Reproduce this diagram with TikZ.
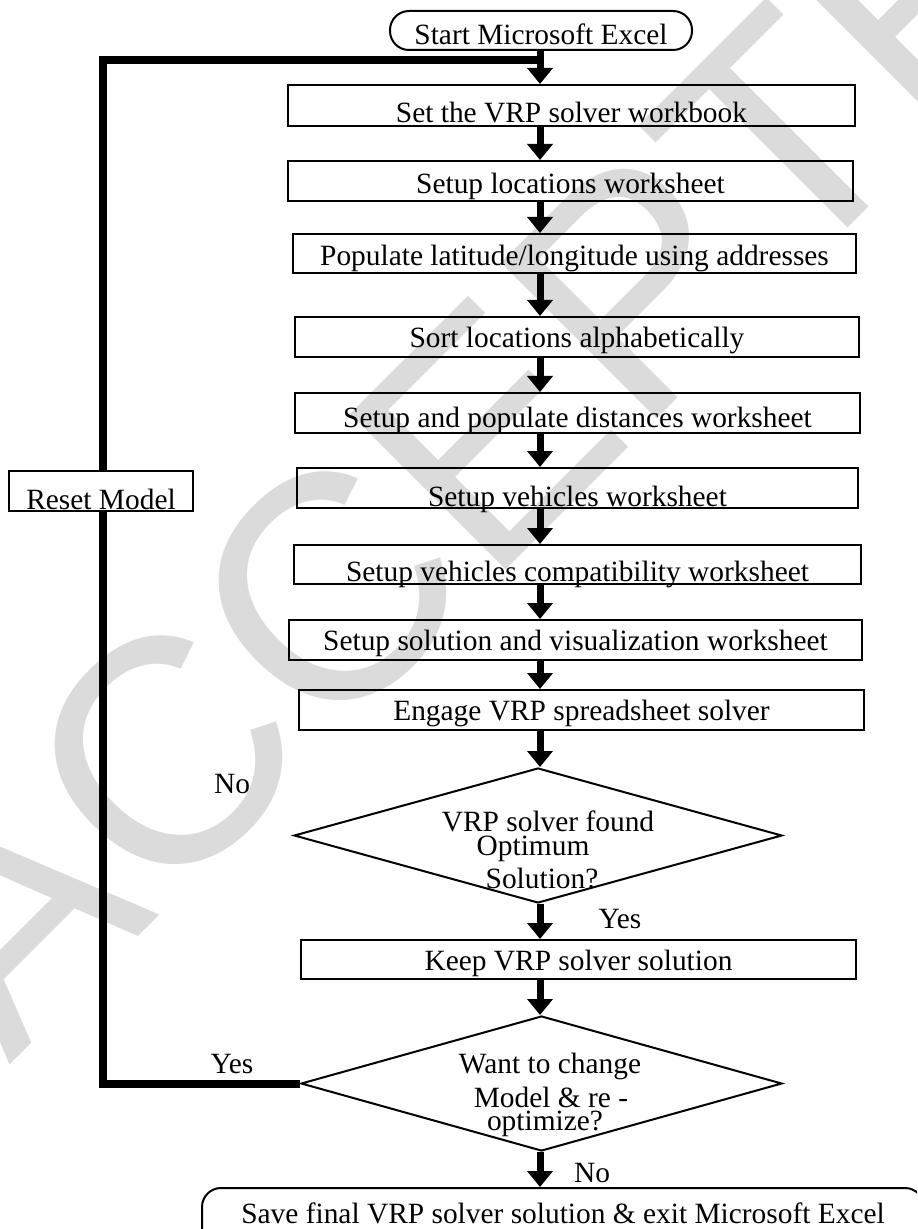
\documentclass[tikz,border=0pt]{standalone}
\usepackage{fontspec}
\setmainfont{Liberation Serif}
\newfontfamily\markfont{Liberation Sans}
\usetikzlibrary{arrows.meta,shapes.geometric}

\tikzset{
  box/.style={draw, line width=1pt, inner sep=0pt},
  term/.style={box, rounded corners=9.5pt},
  dec/.style={draw, line width=1pt, diamond, inner sep=0pt},
  arr/.style={line width=3.5pt, -{Triangle[length=8pt,width=12.5pt]}},
  loopline/.style={line width=4pt, line join=miter},
  lbl/.style={anchor=base, inner sep=0pt}
}

\begin{document}
\begin{tikzpicture}[x=0.5pt, y=-0.5pt, font=\fontsize{14.7}{16}\selectfont]
\useasboundingbox (0,0) rectangle (917,1229);
\clip (0,0) rectangle (917,1229);
% watermark
\node[text=black!14, rotate=45, inner sep=0pt, font=\markfont\fontsize{160}{160}\selectfont] (wmark) at (548,372) {ACCEPTED};

\coordinate (spine) at (540,0);
\coordinate (corner) at (103,60);

\node[term, minimum width=151pt, text height=17pt, text depth=2.5pt] (start) at (541,30.5) {Start Microsoft Excel};
\node[box, minimum width=283.5pt, text height=19pt, text depth=1.5pt] (b1) at (571.5,105.5) {Set the VRP solver workbook};
\node[box, minimum width=282.5pt, text height=16.5pt, text depth=3.5pt] (b2) at (570.5,181) {Setup locations worksheet};
\node[box, minimum width=281.5pt, text height=16pt, text depth=3.5pt] (b3) at (574.5,253.5) {Populate latitude/longitude using addresses};
\node[box, minimum width=282pt, text height=15.5pt, text depth=4.5pt] (b4) at (577,337) {Sort locations alphabetically};
\node[box, minimum width=282.5pt, text height=17.5pt, text depth=2.5pt] (b5) at (577.5,413) {Setup and populate distances worksheet};
\node[box, minimum width=280.5pt, text height=19pt, text depth=1pt] (b6) at (577.5,488) {Setup vehicles worksheet};
\node[box, minimum width=283.5pt, text height=18pt, text depth=1.5pt] (b7) at (577.5,564.5) {Setup vehicles compatibility worksheet};
\node[box, minimum width=286.5pt, text height=15pt, text depth=5pt] (b8) at (575.5,640) {Setup solution and visualization worksheet};
\node[box, minimum width=282.5pt, text height=15pt, text depth=5pt] (b9) at (581.5,710) {Engage VRP spreadsheet solver};
\node[dec, minimum width=244pt, minimum height=67.5pt] (d1) at (538,835.5) {};
\node[box, minimum width=277.5pt, text height=15pt, text depth=4.5pt] (b10) at (578.5,959.5) {Keep VRP solver solution};
\node[dec, minimum width=240.5pt, minimum height=67.5pt] (d2) at (541.5,1083.5) {};
\node[term, minimum width=361pt, text height=17.5pt, text depth=13.5pt] (stop) at (563,1219) {Save final VRP solver solution \& exit Microsoft Excel};

% decision texts
\node[lbl] (q1a) at (548,831) {VRP solver found};
\node[lbl] (q1b) at (533,855) {Optimum};
\node[lbl] (q1c) at (542,888) {Solution?};
\node[lbl] (q2a) at (550,1073) {Want to change};
\node[lbl] (q2b) at (551,1107) {Model \& re -};
\node[lbl] (q2c) at (545,1130) {optimize?};

% arrows
\draw[arr] (start.south -| spine) -- (b1.north -| spine);
\draw[arr] (b1.south -| spine) -- (b2.north -| spine);
\draw[arr] (b2.south -| spine) -- (b3.north -| spine);
\draw[arr] (b3.south -| spine) -- (b4.north -| spine);
\draw[arr] (b4.south -| spine) -- (b5.north -| spine);
\draw[arr] (b5.south -| spine) -- (b6.north -| spine);
\draw[arr] (b6.south -| spine) -- (b7.north -| spine);
\draw[arr] (b7.south -| spine) -- (b8.north -| spine);
\draw[arr] (b8.south -| spine) -- (b9.north -| spine);
\draw[arr] (b9.south -| spine) -- (d1.north -| spine);
\draw[arr] (d1.south -| spine) -- (b10.north -| spine);
\draw[arr] (b10.south -| spine) -- (d2.north -| spine);
\draw[arr] (d2.south -| spine) -- (stop.north -| spine);

% loop back
\draw[loopline] (d2.west) -| (corner) -- (corner -| spine);
\node[box, fill=white, minimum width=92pt, text height=19pt, text depth=1pt] (reset) at (101,491) {Reset Model};

\node[lbl] (no1) at (232,793) {No};
\node[lbl] (yes1) at (620,928) {Yes};
\node[lbl] (yes2) at (232,1073) {Yes};
\node[lbl] (no2) at (592,1182) {No};
\end{tikzpicture}
\end{document}
